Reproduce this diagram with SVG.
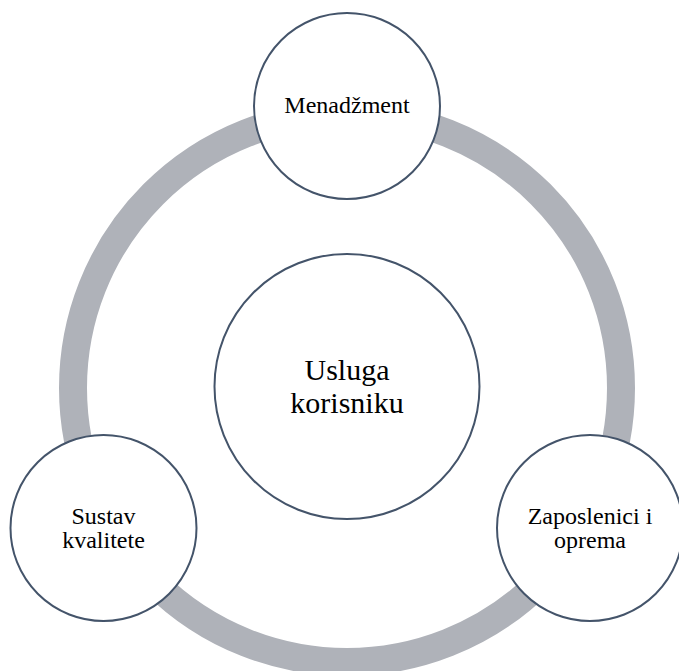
<svg xmlns="http://www.w3.org/2000/svg" width="679" height="671" viewBox="0 0 679 671">
<style>
.node{fill:#FFFFFF;stroke:#44546A;stroke-width:2}
.ring{fill:none;stroke:#AFB2B9;stroke-width:28}
text{font-family:"Liberation Serif","Times New Roman",serif;fill:#000;text-anchor:middle}
.s{font-size:24px}
.l{font-size:30px}
</style>
<rect width="679" height="671" fill="#FFFFFF"/>
<g id="connectors">
<circle class="ring" cx="347" cy="388" r="274"/>
</g>
<g id="center">
<circle class="node" cx="347" cy="386.5" r="132.5"/>
<text class="l" x="347" y="380">Usluga</text>
<text class="l" x="347" y="413">korisniku</text>
</g>
<g id="menadzment">
<circle class="node" cx="347" cy="106" r="93"/>
<text class="s" x="347" y="113">Menadžment</text>
</g>
<g id="sustav">
<circle class="node" cx="103.5" cy="528" r="93"/>
<text class="s" x="103.5" y="524">Sustav</text>
<text class="s" x="103.5" y="548">kvalitete</text>
</g>
<g id="zaposlenici">
<circle class="node" cx="590" cy="528" r="93"/>
<text class="s" x="590" y="524">Zaposlenici i</text>
<text class="s" x="590" y="548">oprema</text>
</g>
</svg>
